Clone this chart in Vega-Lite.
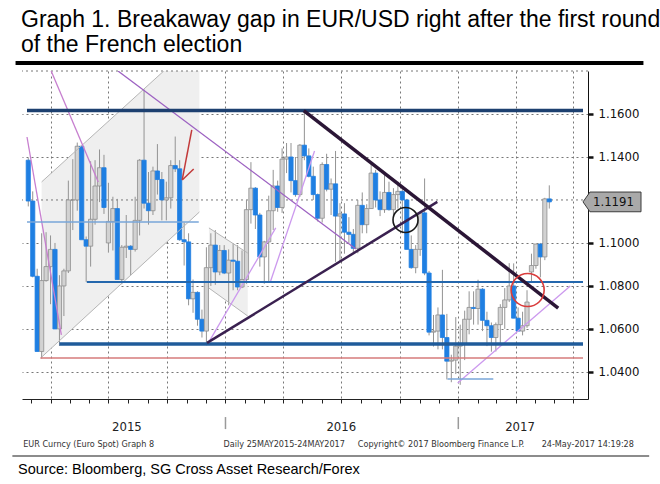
{
  "$schema": "https://vega.github.io/schema/vega-lite/v6.json",
  "width": 566,
  "height": 328,
  "autosize": "none",
  "padding": {"left": 22, "top": 71, "right": 72, "bottom": 85},
  "background": "#ffffff",
  "title": {
    "text": ["Graph 1. Breakaway gap in EUR/USD right after the first round", "of the French election"],
    "anchor": "start", "frame": "group", "dx": -1, "offset": -19, "baseline": "bottom",
    "font": "Liberation Sans", "fontSize": 23, "fontWeight": "normal", "color": "#000000", "lineHeight": 25
  },
  "config": {"view": {"stroke": null}},
  "data": {"values": [{}]},
  "datasets": {
    "px": [
      {"d":"2015-02-25","o":1.1385,"h":1.1395,"l":1.1170,"c":1.1195},
      {"d":"2015-03-04","o":1.1195,"h":1.1240,"l":1.0840,"c":1.0845},
      {"d":"2015-03-11","o":1.0845,"h":1.0880,"l":1.0495,"c":1.0495},
      {"d":"2015-03-18","o":1.0495,"h":1.1045,"l":1.0462,"c":1.0825},
      {"d":"2015-03-25","o":1.0825,"h":1.1050,"l":1.0820,"c":1.0890},
      {"d":"2015-04-01","o":1.0890,"h":1.1035,"l":1.0715,"c":1.0970},
      {"d":"2015-04-08","o":1.0970,"h":1.1000,"l":1.0600,"c":1.0600},
      {"d":"2015-04-15","o":1.0600,"h":1.0850,"l":1.0521,"c":1.0800},
      {"d":"2015-04-22","o":1.0800,"h":1.0880,"l":1.0660,"c":1.0870},
      {"d":"2015-04-29","o":1.0870,"h":1.1290,"l":1.0860,"c":1.1200},
      {"d":"2015-05-06","o":1.1200,"h":1.1390,"l":1.1060,"c":1.1200},
      {"d":"2015-05-13","o":1.1200,"h":1.1467,"l":1.1150,"c":1.1450},
      {"d":"2015-05-20","o":1.1450,"h":1.1450,"l":1.1020,"c":1.1015},
      {"d":"2015-05-27","o":1.1015,"h":1.1030,"l":1.0819,"c":1.0985},
      {"d":"2015-06-03","o":1.0985,"h":1.1380,"l":1.0890,"c":1.1110},
      {"d":"2015-06-10","o":1.1110,"h":1.1385,"l":1.1085,"c":1.1265},
      {"d":"2015-06-17","o":1.1265,"h":1.1435,"l":1.1190,"c":1.1350},
      {"d":"2015-06-24","o":1.1350,"h":1.1410,"l":1.1135,"c":1.1165},
      {"d":"2015-07-01","o":1.1000,"h":1.1280,"l":1.0955,"c":1.1100},
      {"d":"2015-07-08","o":1.1100,"h":1.1215,"l":1.0965,"c":1.1160},
      {"d":"2015-07-15","o":1.1160,"h":1.1205,"l":1.0830,"c":1.0830},
      {"d":"2015-07-22","o":1.0830,"h":1.0990,"l":1.0808,"c":1.0980},
      {"d":"2015-07-29","o":1.0980,"h":1.1130,"l":1.0930,"c":1.0985},
      {"d":"2015-08-05","o":1.0985,"h":1.0990,"l":1.0850,"c":1.0970},
      {"d":"2015-08-12","o":1.0970,"h":1.1215,"l":1.0960,"c":1.1105},
      {"d":"2015-08-19","o":1.1105,"h":1.1390,"l":1.1035,"c":1.1385},
      {"d":"2015-08-26","o":1.1385,"h":1.1714,"l":1.1160,"c":1.1185},
      {"d":"2015-09-02","o":1.1185,"h":1.1330,"l":1.1085,"c":1.1150},
      {"d":"2015-09-09","o":1.1150,"h":1.1355,"l":1.1130,"c":1.1335},
      {"d":"2015-09-16","o":1.1335,"h":1.1460,"l":1.1225,"c":1.1295},
      {"d":"2015-09-23","o":1.1295,"h":1.1330,"l":1.1105,"c":1.1200},
      {"d":"2015-09-30","o":1.1200,"h":1.1285,"l":1.1105,"c":1.1210},
      {"d":"2015-10-07","o":1.1210,"h":1.1385,"l":1.1160,"c":1.1360},
      {"d":"2015-10-14","o":1.1360,"h":1.1495,"l":1.1330,"c":1.1345},
      {"d":"2015-10-21","o":1.1345,"h":1.1385,"l":1.1010,"c":1.1015},
      {"d":"2015-10-28","o":1.1015,"h":1.1095,"l":1.0895,"c":1.1005},
      {"d":"2015-11-04","o":1.1005,"h":1.1045,"l":1.0710,"c":1.0740},
      {"d":"2015-11-11","o":1.0740,"h":1.0830,"l":1.0675,"c":1.0770},
      {"d":"2015-11-18","o":1.0770,"h":1.0775,"l":1.0615,"c":1.0645},
      {"d":"2015-11-25","o":1.0645,"h":1.0690,"l":1.0560,"c":1.0590},
      {"d":"2015-12-02","o":1.0590,"h":1.0980,"l":1.0524,"c":1.0885},
      {"d":"2015-12-09","o":1.0885,"h":1.1045,"l":1.0800,"c":1.0990},
      {"d":"2015-12-16","o":1.0990,"h":1.1060,"l":1.0805,"c":1.0865},
      {"d":"2015-12-23","o":1.0865,"h":1.0990,"l":1.0850,"c":1.0965},
      {"d":"2015-12-30","o":1.0965,"h":1.0990,"l":1.0855,"c":1.0860},
      {"d":"2016-01-06","o":1.0860,"h":1.0970,"l":1.0710,"c":1.0920},
      {"d":"2016-01-13","o":1.0920,"h":1.0995,"l":1.0780,"c":1.0915},
      {"d":"2016-01-20","o":1.0915,"h":1.0990,"l":1.0780,"c":1.0795},
      {"d":"2016-01-27","o":1.0795,"h":1.0965,"l":1.0790,"c":1.0830},
      {"d":"2016-02-03","o":1.0830,"h":1.1200,"l":1.0810,"c":1.1155},
      {"d":"2016-02-10","o":1.1155,"h":1.1376,"l":1.1090,"c":1.1255},
      {"d":"2016-02-17","o":1.1255,"h":1.1260,"l":1.1065,"c":1.1130},
      {"d":"2016-02-24","o":1.1130,"h":1.1140,"l":1.0890,"c":1.0935},
      {"d":"2016-03-02","o":1.0935,"h":1.1010,"l":1.0810,"c":1.1005},
      {"d":"2016-03-09","o":1.1005,"h":1.1220,"l":1.0822,"c":1.1150},
      {"d":"2016-03-16","o":1.1150,"h":1.1340,"l":1.1060,"c":1.1265},
      {"d":"2016-03-23","o":1.1265,"h":1.1290,"l":1.1145,"c":1.1165},
      {"d":"2016-03-30","o":1.1165,"h":1.1440,"l":1.1140,"c":1.1390},
      {"d":"2016-04-06","o":1.1390,"h":1.1465,"l":1.1325,"c":1.1400},
      {"d":"2016-04-13","o":1.1400,"h":1.1465,"l":1.1235,"c":1.1290},
      {"d":"2016-04-20","o":1.1290,"h":1.1400,"l":1.1215,"c":1.1225},
      {"d":"2016-04-27","o":1.1225,"h":1.1460,"l":1.1215,"c":1.1455},
      {"d":"2016-05-04","o":1.1455,"h":1.1616,"l":1.1385,"c":1.1405},
      {"d":"2016-05-11","o":1.1405,"h":1.1440,"l":1.1305,"c":1.1310},
      {"d":"2016-05-18","o":1.1310,"h":1.1355,"l":1.1200,"c":1.1225},
      {"d":"2016-05-25","o":1.1225,"h":1.1230,"l":1.1100,"c":1.1115},
      {"d":"2016-06-01","o":1.1115,"h":1.1375,"l":1.1095,"c":1.1365},
      {"d":"2016-06-08","o":1.1365,"h":1.1415,"l":1.1240,"c":1.1250},
      {"d":"2016-06-15","o":1.1250,"h":1.1300,"l":1.1130,"c":1.1275},
      {"d":"2016-06-22","o":1.1275,"h":1.1428,"l":1.0912,"c":1.1125},
      {"d":"2016-06-29","o":1.1125,"h":1.1185,"l":1.0910,"c":1.1135},
      {"d":"2016-07-06","o":1.1135,"h":1.1185,"l":1.0950,"c":1.1050},
      {"d":"2016-07-13","o":1.1050,"h":1.1120,"l":1.1000,"c":1.1040},
      {"d":"2016-07-20","o":1.1040,"h":1.1065,"l":1.0950,"c":1.0975},
      {"d":"2016-07-27","o":1.0975,"h":1.1200,"l":1.0952,"c":1.1175},
      {"d":"2016-08-03","o":1.1175,"h":1.1235,"l":1.1045,"c":1.1085},
      {"d":"2016-08-10","o":1.1085,"h":1.1180,"l":1.1045,"c":1.1160},
      {"d":"2016-08-17","o":1.1160,"h":1.1366,"l":1.1160,"c":1.1325},
      {"d":"2016-08-24","o":1.1325,"h":1.1340,"l":1.1165,"c":1.1200},
      {"d":"2016-08-31","o":1.1200,"h":1.1240,"l":1.1125,"c":1.1155},
      {"d":"2016-09-07","o":1.1155,"h":1.1330,"l":1.1140,"c":1.1235},
      {"d":"2016-09-14","o":1.1235,"h":1.1285,"l":1.1150,"c":1.1155},
      {"d":"2016-09-21","o":1.1155,"h":1.1255,"l":1.1125,"c":1.1225},
      {"d":"2016-09-28","o":1.1225,"h":1.1285,"l":1.1160,"c":1.1240},
      {"d":"2016-10-05","o":1.1240,"h":1.1255,"l":1.1045,"c":1.1200},
      {"d":"2016-10-12","o":1.1200,"h":1.1205,"l":1.0970,"c":1.0970},
      {"d":"2016-10-19","o":1.0970,"h":1.1035,"l":1.0880,"c":1.0885},
      {"d":"2016-10-26","o":1.0885,"h":1.0990,"l":1.0859,"c":1.0970},
      {"d":"2016-11-02","o":1.0970,"h":1.1145,"l":1.0940,"c":1.1140},
      {"d":"2016-11-09","o":1.1140,"h":1.1300,"l":1.0850,"c":1.0860},
      {"d":"2016-11-16","o":1.0860,"h":1.0870,"l":1.0570,"c":1.0585},
      {"d":"2016-11-23","o":1.0585,"h":1.0665,"l":1.0518,"c":1.0590},
      {"d":"2016-11-30","o":1.0590,"h":1.0700,"l":1.0505,"c":1.0665},
      {"d":"2016-12-07","o":1.0665,"h":1.0875,"l":1.0505,"c":1.0560},
      {"d":"2016-12-14","o":1.0560,"h":1.0670,"l":1.0365,"c":1.0450},
      {"d":"2016-12-21","o":1.0450,"h":1.0480,"l":1.0352,"c":1.0455},
      {"d":"2016-12-28","o":1.0455,"h":1.0655,"l":1.0390,"c":1.0520},
      {"d":"2017-01-04","o":1.0520,"h":1.0620,"l":1.0340,"c":1.0530},
      {"d":"2017-01-11","o":1.0530,"h":1.0685,"l":1.0455,"c":1.0645},
      {"d":"2017-01-18","o":1.0645,"h":1.0775,"l":1.0575,"c":1.0700},
      {"d":"2017-01-25","o":1.0700,"h":1.0775,"l":1.0620,"c":1.0695},
      {"d":"2017-02-01","o":1.0695,"h":1.0829,"l":1.0620,"c":1.0785},
      {"d":"2017-02-08","o":1.0785,"h":1.0790,"l":1.0590,"c":1.0640},
      {"d":"2017-02-15","o":1.0640,"h":1.0680,"l":1.0520,"c":1.0615},
      {"d":"2017-02-22","o":1.0615,"h":1.0630,"l":1.0494,"c":1.0560},
      {"d":"2017-03-01","o":1.0560,"h":1.0630,"l":1.0495,"c":1.0620},
      {"d":"2017-03-08","o":1.0620,"h":1.0715,"l":1.0525,"c":1.0700},
      {"d":"2017-03-15","o":1.0700,"h":1.0790,"l":1.0600,"c":1.0735},
      {"d":"2017-03-22","o":1.0735,"h":1.0906,"l":1.0725,"c":1.0800},
      {"d":"2017-03-29","o":1.0800,"h":1.0905,"l":1.0650,"c":1.0650},
      {"d":"2017-04-05","o":1.0650,"h":1.0700,"l":1.0590,"c":1.0590},
      {"d":"2017-04-12","o":1.0590,"h":1.0680,"l":1.0570,"c":1.0615},
      {"d":"2017-04-19","o":1.0615,"h":1.0780,"l":1.0605,"c":1.0725},
      {"d":"2017-04-26","o":1.0865,"h":1.0950,"l":1.0820,"c":1.0895},
      {"d":"2017-05-03","o":1.0895,"h":1.0995,"l":1.0880,"c":1.0995},
      {"d":"2017-05-10","o":1.0995,"h":1.1000,"l":1.0840,"c":1.0935},
      {"d":"2017-05-17","o":1.0935,"h":1.1210,"l":1.0920,"c":1.1205},
      {"d":"2017-05-24","o":1.1205,"h":1.1268,"l":1.1160,"c":1.1191}
    ],
    "lines": [
      {"k":"channel","d1":"2015-03-18","p1":1.1284,"d2":"2015-09-26","p2":1.18},
      {"k":"channel","d1":"2015-03-18","p1":1.0469,"d2":"2015-11-21","p2":1.1144},
      {"k":"channel","d1":"2015-12-06","p1":1.1070,"d2":"2016-02-05","p2":1.0953},
      {"k":"channel","d1":"2015-12-06","p1":1.0790,"d2":"2016-02-05","p2":1.0660},
      {"k":"orchid","d1":"2015-02-23","p1":1.1493,"d2":"2015-04-18","p2":1.0572},
      {"k":"orchid","d1":"2015-04-02","p1":1.18,"d2":"2015-06-15","p2":1.1284},
      {"k":"purple","d1":"2015-07-16","p1":1.18,"d2":"2016-07-24","p2":1.0972},
      {"k":"violet","d1":"2015-12-06","p1":1.0540,"d2":"2016-03-20","p2":1.1070},
      {"k":"violet","d1":"2016-03-12","p1":1.0823,"d2":"2016-05-20","p2":1.1428},
      {"k":"violet","d1":"2016-12-31","p1":1.0348,"d2":"2017-06-26","p2":1.0800},
      {"k":"level","d1":"2015-02-23","p1":1.1097,"d2":"2015-11-20","p2":1.1097},
      {"k":"level","d1":"2016-12-15","p1":1.0367,"d2":"2017-02-25","p2":1.0367},
      {"k":"low","d1":"2015-03-16","p1":1.0465,"d2":"2017-07-16","p2":1.0465},
      {"k":"support2","d1":"2015-05-28","p1":1.0818,"d2":"2017-07-16","p2":1.0818},
      {"k":"support1","d1":"2015-04-15","p1":1.0530,"d2":"2017-07-16","p2":1.0530},
      {"k":"resistance","d1":"2015-02-23","p1":1.1616,"d2":"2017-07-16","p2":1.1616},
      {"k":"trendUp","d1":"2015-12-03","p1":1.0535,"d2":"2016-11-29","p2":1.1191},
      {"k":"trendDown","d1":"2016-05-03","p1":1.1616,"d2":"2017-06-07","p2":1.0697},
      {"k":"arrow","d1":"2015-11-09","p1":1.1526,"d2":"2015-10-25","p2":1.1293},
      {"k":"arrow","d1":"2015-10-25","p1":1.1293,"d2":"2015-11-12","p2":1.1344}
    ],
    "zones": [
      {"z":"A","d":"2015-03-18","top":1.1284,"bot":1.0469},
      {"z":"A","d":"2015-09-26","top":1.18,"bot":1.0990},
      {"z":"A","d":"2015-11-21","top":1.18,"bot":1.1144},
      {"z":"B","d":"2015-12-06","top":1.1070,"bot":1.0790},
      {"z":"B","d":"2016-02-05","top":1.0953,"bot":1.0660}
    ],
    "unlabeledGrid": [
      {"p": 1.12},
      {"p": 1.18}
    ],
    "years": [
      {"yr":"2015","d":"2015-07-30"},
      {"yr":"2016","d":"2016-07-01"},
      {"yr":"2017","d":"2017-04-08"}
    ],
    "yearStarts": [
      {"d":"2016-01-01"},
      {"d":"2017-01-01"}
    ]
  },
  "layer": [
    {
      "data": {"name": "zones"},
      "mark": {"type": "area", "orient": "vertical", "color": "#efefef", "opacity": 1, "clip": true},
      "encoding": {
        "x": {
          "field": "d", "type": "temporal",
          "scale": {"type": "utc", "domain": [{"year": 2015, "month": 2, "date": 23, "utc": true}, {"year": 2017, "month": 7, "date": 16, "utc": true}]},
          "axis": {
            "title": null, "orient": "bottom", "labels": false,
            "tickCount": {"interval": "month", "step": 1},
            "tickSize": 4, "tickColor": "#222222", "tickWidth": 1,
            "domainColor": "#222222", "domainWidth": 1,
            "grid": true, "gridColor": "#777777", "gridDash": [2, 3], "gridWidth": 1,
            "gridOpacity": {"condition": {"test": "utcmonth(datum.value) % 3 == 0", "value": 1}, "value": 0}
          }
        },
        "y": {
          "field": "top", "type": "quantitative",
          "scale": {"domain": [1.0274, 1.18], "zero": false, "nice": false},
          "axis": {
            "title": null, "orient": "right",
            "values": [1.04, 1.06, 1.08, 1.10, 1.14, 1.16],
            "format": ".4f",
            "labels": true,
            "labelOverlap": false,
            "labelFont": "DejaVu Sans Condensed", "labelFontSize": 13, "labelColor": "#111111", "labelPadding": 5,
            "tickColor": "#111111", "tickSize": 5, "tickWidth": 2.5,
            "domainColor": "#111111", "domainWidth": 1,
            "grid": true, "gridColor": "#777777", "gridDash": [2, 3], "gridWidth": 1
          }
        },
        "y2": {"field": "bot"},
        "detail": {"field": "z"}
      }
    },
    {
      "data": {"name": "unlabeledGrid"},
      "mark": {"type": "rule", "color": "#777777", "strokeWidth": 1, "strokeDash": [2, 3]},
      "encoding": {
        "y": {"field": "p", "type": "quantitative"}
      }
    },
    {
      "data": {"name": "px"},
      "mark": {"type": "rule", "color": "#939393", "strokeWidth": 1, "clip": true},
      "encoding": {
        "x": {"field": "d", "type": "temporal"},
        "y": {"field": "l", "type": "quantitative"},
        "y2": {"field": "h"}
      }
    },
    {
      "data": {"name": "px"},
      "mark": {"type": "bar", "width": 4.2, "strokeWidth": 0.8, "clip": true},
      "encoding": {
        "x": {"field": "d", "type": "temporal"},
        "y": {"field": "o", "type": "quantitative"},
        "y2": {"field": "c"},
        "fill": {"condition": {"test": "datum.c < datum.o", "value": "#1f7fe2"}, "value": "#d2d2d2"},
        "stroke": {"condition": {"test": "datum.c < datum.o", "value": "#1f7fe2"}, "value": "#8e8e8e"}
      }
    },
    {
      "data": {"name": "lines"},
      "mark": {"type": "rule", "clip": true},
      "encoding": {
        "x": {"field": "d1", "type": "temporal"},
        "x2": {"field": "d2"},
        "y": {"field": "p1", "type": "quantitative"},
        "y2": {"field": "p2"},
        "stroke": {
          "field": "k", "type": "nominal", "legend": null,
          "scale": {
            "domain": ["channel", "orchid", "purple", "violet", "level", "low", "support2", "support1", "resistance", "trendUp", "trendDown", "arrow"],
            "range": ["#b5b5b5", "#c77fcf", "#9d62c2", "#cc99ee", "#78a6d8", "#d67b7b", "#2467ad", "#1f5b9a", "#1d4070", "#3a2150", "#2b1636", "#c23a3a"]
          }
        },
        "strokeWidth": {
          "condition": [
            {"test": "datum.k == 'resistance' || datum.k == 'support1' || datum.k == 'trendDown'", "value": 3.5},
            {"test": "datum.k == 'trendUp'", "value": 2.5},
            {"test": "datum.k == 'support2'", "value": 2},
            {"test": "datum.k == 'level' || datum.k == 'low' || datum.k == 'arrow'", "value": 1.5},
            {"test": "datum.k == 'channel'", "value": 1}
          ],
          "value": 1.3
        }
      }
    },
    {
      "mark": {"type": "point", "shape": "circle", "size": 625, "filled": false, "stroke": "#1a1a1a", "strokeWidth": 1.6, "opacity": 1},
      "encoding": {
        "x": {"datum": {"year": 2016, "month": 10, "date": 10, "utc": true}, "type": "temporal"},
        "y": {"datum": 1.1107, "type": "quantitative"}
      }
    },
    {
      "mark": {"type": "point", "shape": "circle", "size": 1089, "filled": false, "stroke": "#d93b3b", "strokeWidth": 1.6, "opacity": 1},
      "encoding": {
        "x": {"datum": {"year": 2017, "month": 4, "date": 20, "utc": true}, "type": "temporal"},
        "y": {"datum": 1.0781, "type": "quantitative"}
      }
    },
    {
      "mark": {"type": "point", "shape": "M0,0L0.24,-0.34L2,-0.34L2,0.34L0.24,0.34Z", "size": 3364, "filled": true, "fill": "#a9a9a9", "stroke": "#3c3c3c", "strokeWidth": 1, "opacity": 1, "clip": false},
      "encoding": {
        "x": {"datum": {"year": 2017, "month": 7, "date": 16, "utc": true}, "type": "temporal"},
        "y": {"datum": 1.1191, "type": "quantitative"}
      }
    },
    {
      "mark": {"type": "text", "align": "left", "baseline": "middle", "dx": 10, "font": "DejaVu Sans Condensed", "fontSize": 13, "color": "#111111"},
      "encoding": {
        "x": {"datum": {"year": 2017, "month": 7, "date": 16, "utc": true}, "type": "temporal"},
        "y": {"datum": 1.1191, "type": "quantitative"},
        "text": {"value": "1.1191"}
      }
    },
    {
      "mark": {"type": "rule", "color": "#000000", "strokeWidth": 4, "clip": false},
      "encoding": {
        "x": {"datum": {"year": 2015, "month": 2, "date": 5, "utc": true}, "type": "temporal"},
        "x2": {"datum": {"year": 2017, "month": 10, "date": 19, "utc": true}},
        "y": {"datum": 1.1837, "type": "quantitative"}
      }
    },
    {
      "mark": {"type": "rule", "color": "#8c8c8c", "strokeWidth": 2, "clip": false},
      "encoding": {
        "x": {"datum": {"year": 2015, "month": 1, "date": 31, "utc": true}, "type": "temporal"},
        "x2": {"datum": {"year": 2017, "month": 10, "date": 28, "utc": true}},
        "y": {"datum": 1.0009, "type": "quantitative"}
      }
    },
    {
      "data": {"name": "yearStarts"},
      "mark": {"type": "rule", "color": "#9a9a9a", "strokeWidth": 1.5, "clip": false},
      "encoding": {
        "x": {"field": "d", "type": "temporal"},
        "y": {"datum": 1.0190, "type": "quantitative"},
        "y2": {"datum": 1.0134}
      }
    },
    {
      "data": {"name": "years"},
      "mark": {"type": "text", "align": "center", "baseline": "middle", "font": "DejaVu Sans Condensed", "fontSize": 13, "color": "#222222", "clip": false},
      "encoding": {
        "x": {"field": "d", "type": "temporal"},
        "y": {"datum": 1.0144, "type": "quantitative"},
        "text": {"field": "yr"}
      }
    },
    {
      "mark": {"type": "text", "align": "left", "baseline": "middle", "font": "DejaVu Sans Condensed", "fontSize": 9, "color": "#333333", "clip": false},
      "encoding": {
        "x": {"datum": {"year": 2015, "month": 2, "date": 17, "utc": true}, "type": "temporal"},
        "y": {"datum": 1.0065, "type": "quantitative"},
        "text": {"value": "EUR Curncy (Euro Spot) Graph 8"}
      }
    },
    {
      "mark": {"type": "text", "align": "left", "baseline": "middle", "font": "DejaVu Sans Condensed", "fontSize": 9, "color": "#333333", "clip": false},
      "encoding": {
        "x": {"datum": {"year": 2015, "month": 12, "date": 29, "utc": true}, "type": "temporal"},
        "y": {"datum": 1.0065, "type": "quantitative"},
        "text": {"value": "Daily 25MAY2015-24MAY2017"}
      }
    },
    {
      "mark": {"type": "text", "align": "left", "baseline": "middle", "font": "DejaVu Sans Condensed", "fontSize": 9, "color": "#333333", "clip": false},
      "encoding": {
        "x": {"datum": {"year": 2016, "month": 7, "date": 27, "utc": true}, "type": "temporal"},
        "y": {"datum": 1.0065, "type": "quantitative"},
        "text": {"value": "Copyright© 2017 Bloomberg Finance L.P."}
      }
    },
    {
      "mark": {"type": "text", "align": "left", "baseline": "middle", "font": "DejaVu Sans Condensed", "fontSize": 9, "color": "#333333", "clip": false},
      "encoding": {
        "x": {"datum": {"year": 2017, "month": 5, "date": 12, "utc": true}, "type": "temporal"},
        "y": {"datum": 1.0065, "type": "quantitative"},
        "text": {"value": "24-May-2017 14:19:28"}
      }
    },
    {
      "mark": {"type": "text", "align": "left", "baseline": "middle", "font": "Liberation Sans", "fontSize": 14.5, "color": "#000000", "clip": false},
      "encoding": {
        "x": {"datum": {"year": 2015, "month": 2, "date": 9, "utc": true}, "type": "temporal"},
        "y": {"datum": 0.9944, "type": "quantitative"},
        "text": {"value": "Source: Bloomberg, SG Cross Asset Research/Forex"}
      }
    }
  ]
}
